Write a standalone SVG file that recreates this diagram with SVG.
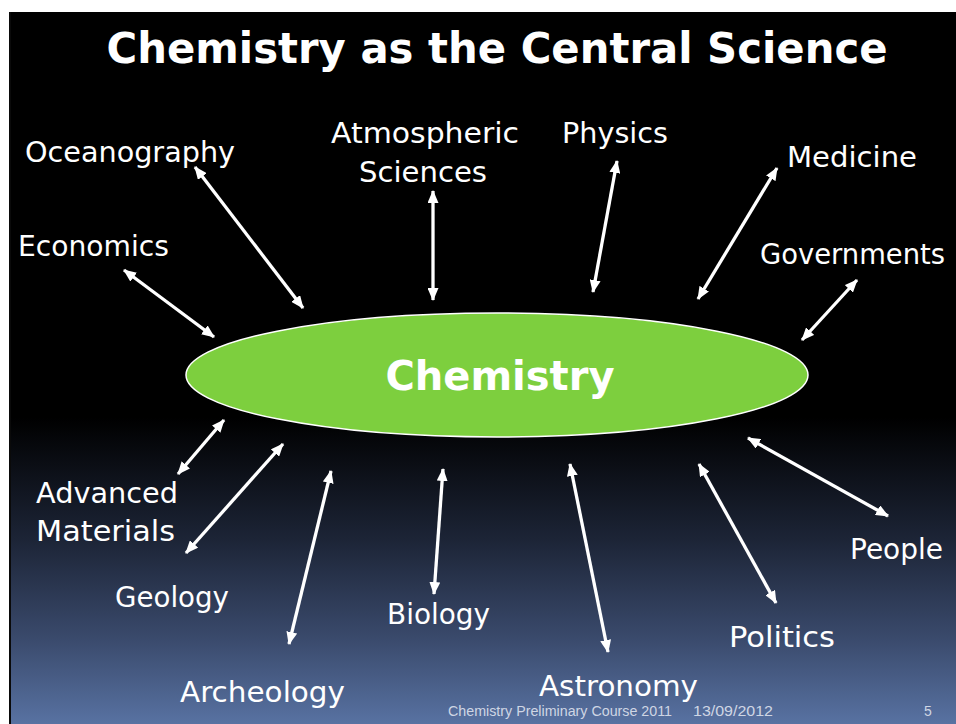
<svg xmlns="http://www.w3.org/2000/svg" width="956" height="724" viewBox="0 0 956 724">
<defs>
<linearGradient id="bg" x1="0" y1="12" x2="0" y2="724" gradientUnits="userSpaceOnUse">
<stop offset="0" stop-color="#000000"/>
<stop offset="0.57" stop-color="#000000"/>
<stop offset="0.74" stop-color="#1c2436"/>
<stop offset="0.88" stop-color="#3a4a6c"/>
<stop offset="1" stop-color="#5872a2"/>
</linearGradient>
<marker id="ah" viewBox="0 0 13 11" refX="12" refY="5.5" markerWidth="13" markerHeight="11" markerUnits="userSpaceOnUse" orient="auto-start-reverse">
<path d="M0,0 L13,5.5 L0,11 Z" fill="#ffffff"/>
</marker>
<style>
.lbl{font-family:"DejaVu Sans","Liberation Sans",sans-serif;font-size:29px;fill:#ffffff}
.con line{stroke:#ffffff;stroke-width:3.3;marker-start:url(#ah);marker-end:url(#ah)}
.foot{font-family:"Liberation Sans",Arial,sans-serif;font-size:14px;fill:#cfd6e4}
</style>
</defs>
<rect x="0" y="0" width="956" height="724" fill="#ffffff"/>
<rect x="9" y="12" width="947" height="712" fill="url(#bg)"/>
<line x1="10" y1="12" x2="10" y2="724" stroke="#0a0a0a" stroke-width="2"/>

<g id="title">
<text x="497" y="63" text-anchor="middle" font-family="DejaVu Sans, Liberation Sans, sans-serif" font-size="43" font-weight="bold" fill="#ffffff" textLength="781" lengthAdjust="spacingAndGlyphs">Chemistry as the Central Science</text>
</g>

<g class="con" id="connectors">
<line x1="195" y1="167" x2="303" y2="308"/>
<line x1="124" y1="270" x2="214" y2="337"/>
<line x1="433" y1="191" x2="433" y2="300"/>
<line x1="617" y1="161" x2="593" y2="292"/>
<line x1="777" y1="168" x2="698" y2="299"/>
<line x1="857" y1="280" x2="802" y2="340"/>
<line x1="224" y1="420" x2="178" y2="474"/>
<line x1="283" y1="444" x2="186" y2="553"/>
<line x1="331" y1="471" x2="289" y2="644"/>
<line x1="443" y1="469" x2="434" y2="594"/>
<line x1="570" y1="464" x2="608" y2="652"/>
<line x1="699" y1="464" x2="776" y2="603"/>
<line x1="748" y1="438" x2="888" y2="516"/>
</g>

<g id="chemistry">
<ellipse cx="497" cy="375" rx="311" ry="62" fill="#7dcf3e" stroke="#ffffff" stroke-width="1.5"/>
<text x="500" y="390" text-anchor="middle" font-family="DejaVu Sans, Liberation Sans, sans-serif" font-size="40" font-weight="bold" fill="#ffffff" textLength="229" lengthAdjust="spacingAndGlyphs">Chemistry</text>
</g>

<g id="oceanography"><text class="lbl" x="25" y="162" textLength="210" lengthAdjust="spacingAndGlyphs">Oceanography</text></g>
<g id="economics"><text class="lbl" x="18" y="256" textLength="151" lengthAdjust="spacingAndGlyphs">Economics</text></g>
<g id="atmospheric">
<text class="lbl" x="331" y="143" textLength="188" lengthAdjust="spacingAndGlyphs">Atmospheric</text>
<text class="lbl" x="359" y="182" textLength="128" lengthAdjust="spacingAndGlyphs">Sciences</text>
</g>
<g id="physics"><text class="lbl" x="562" y="143" textLength="106" lengthAdjust="spacingAndGlyphs">Physics</text></g>
<g id="medicine"><text class="lbl" x="787" y="167" textLength="130" lengthAdjust="spacingAndGlyphs">Medicine</text></g>
<g id="governments"><text class="lbl" x="760" y="264" textLength="185" lengthAdjust="spacingAndGlyphs">Governments</text></g>
<g id="advanced-materials">
<text class="lbl" x="36" y="503" textLength="142" lengthAdjust="spacingAndGlyphs">Advanced</text>
<text class="lbl" x="36" y="541" textLength="139" lengthAdjust="spacingAndGlyphs">Materials</text>
</g>
<g id="geology"><text class="lbl" x="115" y="607" textLength="114" lengthAdjust="spacingAndGlyphs">Geology</text></g>
<g id="archeology"><text class="lbl" x="180" y="702" textLength="165" lengthAdjust="spacingAndGlyphs">Archeology</text></g>
<g id="biology"><text class="lbl" x="387" y="624" textLength="103" lengthAdjust="spacingAndGlyphs">Biology</text></g>
<g id="astronomy"><text class="lbl" x="539" y="696" textLength="159" lengthAdjust="spacingAndGlyphs">Astronomy</text></g>
<g id="politics"><text class="lbl" x="729" y="647" textLength="106" lengthAdjust="spacingAndGlyphs">Politics</text></g>
<g id="people"><text class="lbl" x="850" y="559" textLength="93" lengthAdjust="spacingAndGlyphs">People</text></g>

<g id="footer">
<text class="foot" x="448" y="716" textLength="224" lengthAdjust="spacingAndGlyphs">Chemistry Preliminary Course 2011</text>
<text class="foot" x="693" y="716" textLength="80" lengthAdjust="spacingAndGlyphs">13/09/2012</text>
<text class="foot" x="924" y="716">5</text>
</g>
</svg>
